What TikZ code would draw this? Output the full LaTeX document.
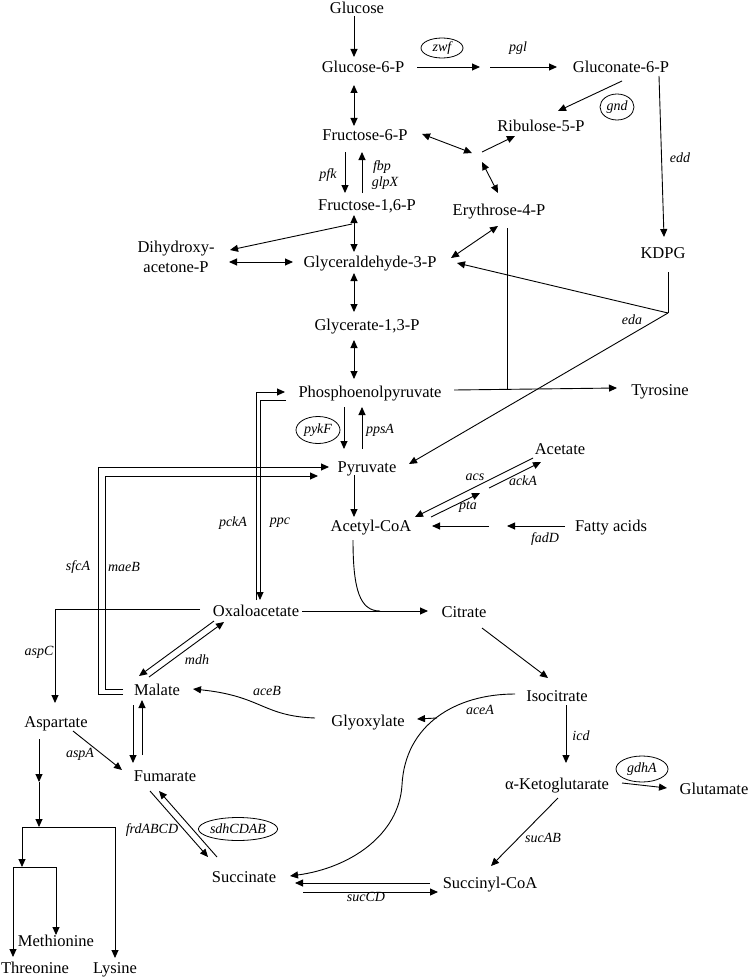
\documentclass[tikz,border=0pt]{standalone}
\usepackage{fontspec}
\setmainfont{Liberation Serif}
\usetikzlibrary{calc,arrows.meta,shapes.geometric}
\tikzset{
  pmet/.style={font=\fontsize{16.5}{20}\selectfont, inner sep=2pt,
               text height=11.5pt, text depth=0pt},
  pmettwo/.style={font=\fontsize{16.5}{20}\selectfont, inner sep=2pt, align=center},
  pgene/.style={font=\fontsize{14}{16}\selectfont\itshape, inner sep=1pt},
  pgenebox/.style={pgene, ellipse, draw, line width=0.8pt, inner sep=0pt},
  pline/.style={line width=0.9pt},
  pdir/.style={pline, -{Triangle[length=8pt,width=7pt]}},
  pboth/.style={pline, {Triangle[length=8pt,width=7pt]}-{Triangle[length=8pt,width=7pt]}},
}

\begin{document}
\begin{tikzpicture}[x=1pt, y=-1pt]
  \fill[white] (0,0) rectangle (750,979);
  \useasboundingbox (0,0) rectangle (750,979);

  % metabolites
  \node[pmet] (glc)      at (357,8)   {Glucose};
  \node[pmet] (gsixp)    at (363,67)  {Glucose-6-P};
  \node[pmet] (glcnsixp) at (621,67)  {Gluconate-6-P};
  \node[pmet] (rusp)     at (541,126) {Ribulose-5-P};
  \node[pmet] (fsixp)    at (365,135) {Fructose-6-P};
  \node[pmet] (fbisp)    at (367,205) {Fructose-1,6-P};
  \node[pmet] (erysp)    at (499,210) {Erythrose-4-P};
  \node[pmettwo] (dhap)  at (176,257) {Dihydroxy-\\acetone-P};
  \node[pmet] (gap)      at (370,262) {Glyceraldehyde-3-P};
  \node[pmet] (kdpg)     at (663,253) {KDPG};
  \node[pmet] (bpg)      at (367,325) {Glycerate-1,3-P};
  \node[pmet] (pep)      at (370,392) {Phosphoenolpyruvate};
  \node[pmet] (tyr)      at (660,390) {Tyrosine};
  \node[pmet] (pyr)      at (367,467) {Pyruvate};
  \node[pmet] (ac)       at (560,449) {Acetate};
  \node[pmet] (accoa)    at (371,526) {Acetyl-CoA};
  \node[pmet] (fatty)    at (611,526) {Fatty acids};
  \node[pmet] (oaa)      at (256,611) {Oxaloacetate};
  \node[pmet] (cit)      at (464,612) {Citrate};
  \node[pmet] (mal)      at (157,690) {Malate};
  \node[pmet] (icit)     at (557,696) {Isocitrate};
  \node[pmet] (glx)      at (368,721) {Glyoxylate};
  \node[pmet] (asp)      at (56,722)  {Aspartate};
  \node[pmet] (fum)      at (165,776) {Fumarate};
  \node[pmet] (akg)      at (557,784) {α-Ketoglutarate};
  \node[pmet] (glu)      at (714,789) {Glutamate};
  \node[pmet] (suc)      at (244,877) {Succinate};
  \node[pmet] (succoa)   at (490,883) {Succinyl-CoA};
  \node[pmet] (met)      at (56,941)  {Methionine};
  \node[pmet] (thr)      at (35,968)  {Threonine};
  \node[pmet] (lys)      at (115,968) {Lysine};

  % branch points
  \coordinate (lac)  at (485,67);
  \coordinate (hub)  at (478,157);
  \coordinate (edaj) at (668,313);
  \coordinate (tyrj) at (507,389);
  \coordinate (acp)  at (484,491);
  \coordinate (fap)  at (498,526);
  \coordinate (citj) at (380,611);
  \coordinate (glxj) at (437,718);
  \coordinate (aspx) at (39,782);
  \coordinate (brA)  at (39,827);
  \coordinate (brB)  at (22,867);

  % genes
  \node[pgenebox, minimum width=42pt, minimum height=20pt] (zwf) at (442,48) {zwf};
  \node[pgene] (pgl)  at (518,48)  {pgl};
  \node[pgenebox, minimum width=34pt, minimum height=26pt] (gnd) at (617,107) {gnd};
  \node[pgene] (edd)  at (680,158) {edd};
  \node[pgene] (pfk)  at (328,175) {pfk};
  \node[pgene] (fbp)  at (382,167) {fbp};
  \node[pgene] (glpX) at (385,183) {glpX};
  \node[pgene] (eda)  at (632,320) {eda};
  \node[pgenebox, minimum width=44pt, minimum height=27pt] (pykF) at (318,430) {pykF};
  \node[pgene] (ppsA) at (380,430) {ppsA};
  \node[pgene] (acs)  at (475,477) {acs};
  \node[pgene] (ackA) at (523,481) {ackA};
  \node[pgene] (pta)  at (468,507) {pta};
  \node[pgene] (pckA) at (233,523) {pckA};
  \node[pgene] (ppc)  at (280,523) {ppc};
  \node[pgene] (fadD) at (545,539) {fadD};
  \node[pgene] (sfcA) at (78,567)  {sfcA};
  \node[pgene] (maeB) at (124,567) {maeB};
  \node[pgene] (aspC) at (39,652)  {aspC};
  \node[pgene] (mdh)  at (197,660) {mdh};
  \node[pgene] (aceB) at (267,691) {aceB};
  \node[pgene] (aceA) at (480,710) {aceA};
  \node[pgene] (icd)  at (581,736) {icd};
  \node[pgene] (aspA) at (80,754)  {aspA};
  \node[pgenebox, minimum width=52pt, minimum height=26pt] (gdhA) at (642,769) {gdhA};
  \node[pgene] (frd)  at (152,830) {frdABCD};
  \node[pgenebox, minimum width=77pt, minimum height=23pt] (sdh) at (238,829) {sdhCDAB};
  \node[pgene] (sucAB) at (543,838) {sucAB};
  \node[pgene] (sucCD) at (366,897) {sucCD};

  % glycolysis and pentose phosphate
  \draw[pdir]  ($(glc)+(-3,8)$) -- ($(gsixp)+(-9,-10)$);
  \draw[pdir]  ($(gsixp)+(54,0)$) -- ($(lac)+(-5,0)$);
  \draw[pdir]  ($(lac)+(5,0)$) -- ($(glcnsixp)+(-64,0)$);
  \draw[pdir]  ($(glcnsixp)+(1,14)$) -- ($(rusp)+(17,-15)$);
  \draw[pdir]  ($(glcnsixp)+(38,9)$) -- ($(kdpg)+(1,-16)$);
  \draw[pboth] ($(gsixp)+(-9,18)$) -- ($(fsixp)+(-11,-9)$);
  \draw[pboth] ($(fsixp)+(57,-1)$) -- ($(hub)+(-6,-4)$);
  \draw[pdir]  ($(hub)+(4,-5)$) -- ($(rusp)+(-26,10)$);
  \draw[pboth] ($(hub)+(4,5)$) -- ($(erysp)+(-1,-17)$);
  \draw[pdir]  ($(fsixp)+(-20,17)$) -- ($(fbisp)+(-22,-12)$);
  \draw[pdir]  ($(fbisp)+(-5,-12)$) -- ($(fsixp)+(-3,17)$);
  \draw[pdir]  ($(fbisp)+(-15,19)$) -- ($(dhap)+(54,-7)$);
  \draw[pboth] ($(fbisp)+(-13,10)$) -- ($(gap)+(-16,-10)$);
  \draw[pboth] ($(dhap)+(53,5)$) -- ($(gap)+(-77,0)$);
  \draw[pboth] ($(erysp)+(-1,16)$) -- ($(gap)+(81,-4)$);
  \draw[pboth] ($(gap)+(-16,11)$) -- ($(bpg)+(-13,-13)$);
  \draw[pboth] ($(bpg)+(-13,15)$) -- ($(pep)+(-16,-13)$);
  \draw[pline] ($(kdpg)+(5,19)$) -- (edaj);
  \draw[pdir]  (edaj) -- ($(gap)+(87,1)$);
  \draw[pdir]  (edaj) -- ($(pyr)+(42,-3)$);
  \draw[pline] ($(erysp)+(8,18)$) -- (tyrj);
  \draw[pdir]  ($(pep)+(84,-2)$) -- ($(tyr)+(-43,-2)$);

  % pyruvate node
  \draw[pdir]  ($(pep)+(-26,15)$) -- ($(pyr)+(-23,-18)$);
  \draw[pdir]  ($(pyr)+(-5,-18)$) -- ($(pep)+(-8,15)$);
  \draw[pdir]  ($(pyr)+(-13,8)$) -- ($(accoa)+(-17,-9)$);
  \draw[pdir]  ($(ac)+(-27,9)$) -- ($(accoa)+(44,-9)$);
  \draw[pdir]  ($(accoa)+(60,-9)$) -- ($(acp)+(-4,2)$);
  \draw[pdir]  ($(acp)+(5,-3)$) -- ($(ac)+(-19,13)$);
  \draw[pdir]  ($(fatty)+(-46,0)$) -- ($(fap)+(9,0)$);
  \draw[pdir]  ($(fap)+(-9,0)$) -- ($(accoa)+(61,0)$);
  \draw[pdir]  ($(oaa)+(0,-11)$) |- ($(pep)+(-85,0)$);
  \draw[pdir]  ($(pep)+(-84,8)$) -| ($(oaa)+(4,-11)$);
  \draw[pdir]  ($(mal)+(-34,4)$) -- ++(-25,0) |- ($(pyr)+(-38,0)$);
  \draw[pdir]  ($(mal)+(-34,-1)$) -- ++(-18,0) |- ($(pyr)+(-49,9)$);

  % TCA cycle and glyoxylate shunt
  \draw[pline] ($(accoa)+(-18,14)$) .. controls (353,590) and (360,611) .. (citj);
  \draw[pdir]  ($(oaa)+(46,0)$) -- ($(cit)+(-36,-1)$);
  \draw[pdir]  ($(oaa)+(-56,-2)$) -| ($(asp)+(-1,-19)$);
  \draw[pdir]  ($(oaa)+(-42,10)$) -- ($(mal)+(-18,-14)$);
  \draw[pdir]  ($(mal)+(-8,-13)$) -- ($(oaa)+(-32,11)$);
  \draw[pdir]  ($(glx)+(-53,-3)$) .. controls (262,716) and (262,696) .. ($(mal)+(36,-1)$);
  \draw[pdir]  ($(mal)+(-24,15)$) -- ($(fum)+(-32,-13)$);
  \draw[pdir]  ($(fum)+(-23,-21)$) -- ($(mal)+(-15,10)$);
  \draw[pdir]  ($(asp)+(17,9)$) -- ($(fum)+(-43,-6)$);
  \draw[pdir]  ($(fum)+(-15,15)$) -- ($(suc)+(-36,-20)$);
  \draw[pdir]  ($(suc)+(-27,-20)$) -- ($(fum)+(-6,15)$);
  \draw[pdir]  ($(succoa)+(-60,0)$) -- ($(suc)+(51,6)$);
  \draw[pdir]  ($(suc)+(59,15)$) -- ($(succoa)+(-52,9)$);
  \draw[pdir]  ($(cit)+(18,16)$) -- ($(icit)+(-9,-18)$);
  \draw[pdir]  ($(icit)+(9,9)$) -- ($(akg)+(9,-21)$);
  \draw[pdir]  ($(akg)+(65,-1)$) -- ($(glu)+(-47,-1)$);
  \draw[pdir]  ($(akg)+(1,14)$) -- ($(succoa)+(1,-17)$);
  \draw[pdir]  ($(icit)+(-42,-2)$) .. controls (455,694) and (405,725) .. (402,785)
               .. controls (399,835) and (350,868) .. ($(suc)+(46,-1)$);
  \draw[pdir]  (glxj) -- ($(glx)+(49,-2)$);

  % aspartate family
  \draw[pdir]  ($(asp)+(-17,17)$) -- (aspx);
  \draw[pdir]  (aspx) -- (brA);
  \draw[pdir]  (brA) -| (brB);
  \draw[pdir]  (brA) -| ($(lys)+(0,-10)$);
  \draw[pdir]  (brB) -| ($(thr)+(-22,-11)$);
  \draw[pdir]  (brB) -| ($(met)+(0,-6)$);
\end{tikzpicture}
\end{document}
